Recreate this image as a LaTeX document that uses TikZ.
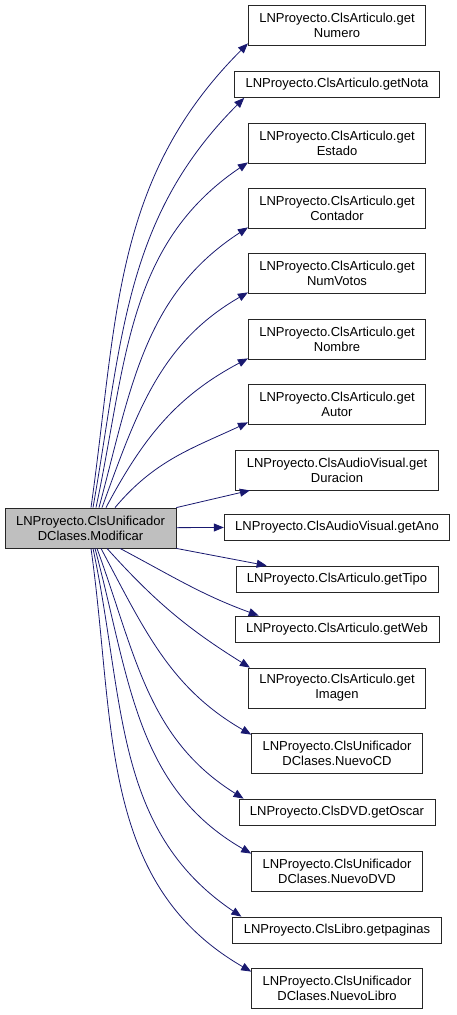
\documentclass[tikz,border=0pt]{standalone}
\usepackage{fontspec}
\setmainfont{Liberation Sans}
\usetikzlibrary{arrows.meta}

\definecolor{edgeblue}{RGB}{25,25,112}
\definecolor{boxgray}{RGB}{191,191,191}

\begin{document}
\begin{tikzpicture}[x=1pt,y=1pt,
  fn/.style={draw=black!85,line width=0.8pt,fill=white,inner xsep=11pt,inner ysep=2pt,
    minimum height=26pt,align=center,font=\fontsize{13}{15}\selectfont},
  fntwo/.style={fn,minimum height=40pt},
  call/.style={-{Triangle[length=10pt,width=8pt]},edgeblue,line width=0.8pt}]
\useasboundingbox (0,0) rectangle (456,-1015);
\node[fntwo,fill=boxgray] (src) at (90.5,-528) {LNProyecto.ClsUnificador\\DClases.Modificar};
\node[fntwo] (numero) at (337,-25) {LNProyecto.ClsArticulo.get\\Numero};
\node[fn] (nota) at (337,-84.5) {LNProyecto.ClsArticulo.getNota};
\node[fntwo] (estado) at (337,-143) {LNProyecto.ClsArticulo.get\\Estado};
\node[fntwo] (contador) at (337,-208) {LNProyecto.ClsArticulo.get\\Contador};
\node[fntwo] (numvotos) at (337,-273) {LNProyecto.ClsArticulo.get\\NumVotos};
\node[fntwo] (nombre) at (337,-339) {LNProyecto.ClsArticulo.get\\Nombre};
\node[fntwo] (autor) at (337,-404) {LNProyecto.ClsArticulo.get\\Autor};
\node[fntwo] (duracion) at (337,-470) {LNProyecto.ClsAudioVisual.get\\Duracion};
\node[fn] (ano) at (337,-527) {LNProyecto.ClsAudioVisual.getAno};
\node[fn] (tipo) at (337,-579) {LNProyecto.ClsArticulo.getTipo};
\node[fn] (web) at (337,-629) {LNProyecto.ClsArticulo.getWeb};
\node[fntwo] (imagen) at (337,-688) {LNProyecto.ClsArticulo.get\\Imagen};
\node[fntwo] (nuevocd) at (337,-753) {LNProyecto.ClsUnificador\\DClases.NuevoCD};
\node[fn] (oscar) at (337,-812) {LNProyecto.ClsDVD.getOscar};
\node[fntwo] (nuevodvd) at (337,-871) {LNProyecto.ClsUnificador\\DClases.NuevoDVD};
\node[fn] (paginas) at (337,-930) {LNProyecto.ClsLibro.getpaginas};
\node[fntwo] (nuevolibro) at (337,-988) {LNProyecto.ClsUnificador\\DClases.NuevoLibro};
% calls going up
\draw[call] ([xshift=0.5pt]src.north) to[out=82,in=225] ([yshift=2pt]numero.south west);
\draw[call] ([xshift=2.5pt]src.north) to[out=80,in=225] ([xshift=10pt]nota.south west);
\draw[call] ([xshift=5.5pt]src.north) to[out=78,in=214] ([yshift=1pt]estado.south west);
\draw[call] ([xshift=8.5pt]src.north) to[out=75,in=213] ([yshift=1pt]contador.south west);
\draw[call] ([xshift=11.5pt]src.north) to[out=70,in=210] ([yshift=1pt]numvotos.south west);
\draw[call] ([xshift=15.5pt]src.north) to[out=62,in=208] ([yshift=1pt]nombre.south west);
\draw[call] ([xshift=24.5pt]src.north) to[out=50,in=205] ([yshift=2pt]autor.south west);
% almost straight ones
\draw[call] (src.north east) -- (duracion);
\draw[call] (src) -- (ano);
\draw[call] (src.south east) -- (tipo);
% calls going down
\draw[call] ([xshift=29.5pt]src.south) to[out=-28,in=160] ([xshift=24pt]web.north west);
\draw[call] ([xshift=16.5pt]src.south) to[out=-48,in=148] ([xshift=2pt]imagen.north west);
\draw[call] ([xshift=10.5pt]src.south) to[out=-62,in=150] ([yshift=-2pt]nuevocd.north west);
\draw[call] ([xshift=6.5pt]src.south) to[out=-70,in=148] ([xshift=5pt]oscar.north west);
\draw[call] ([xshift=4.5pt]src.south) to[out=-75,in=150] ([yshift=-3pt]nuevodvd.north west);
\draw[call] ([xshift=2.5pt]src.south) to[out=-78,in=146] ([xshift=9pt]paginas.north west);
\draw[call] ([xshift=0.5pt]src.south) to[out=-82,in=150] ([yshift=-4pt]nuevolibro.north west);
\end{tikzpicture}
\end{document}
